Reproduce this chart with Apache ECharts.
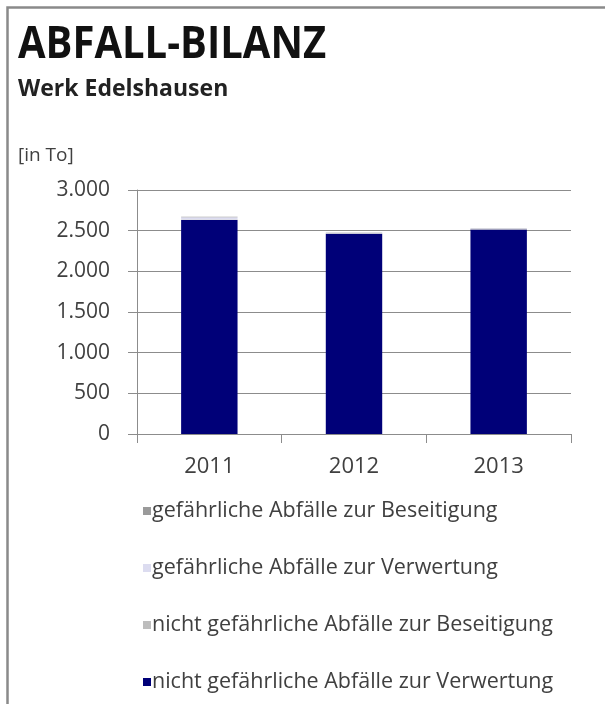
<!DOCTYPE html>
<html>
<head>
<meta charset="utf-8">
<script src="https://cdn.jsdelivr.net/npm/echarts@6/dist/echarts.min.js"></script>
<style>
html,body{margin:0;padding:0;background:#fff;}
#c{width:605px;height:704px;}
</style>
</head>
<body>
<div id="c"></div>
<script>
const categories = ['2011', '2012', '2013'];
const seriesNames = [
  'gefährliche Abfälle zur Beseitigung',
  'gefährliche Abfälle zur Verwertung',
  'nicht gefährliche Abfälle zur Beseitigung',
  'nicht gefährliche Abfälle zur Verwertung'
];
const gefBeseitigung = [4, 3, 3];
const gefVerwertung = [30, 6, 6];
const nichtGefBeseitigung = [6, 5, 5];
const nichtGefVerwertung = [2630, 2462, 2515];
const yTicks = [0, 500, 1000, 1500, 2000, 2500, 3000];

const colors = {
  'gefährliche Abfälle zur Beseitigung': '#9a9a9a',
  'gefährliche Abfälle zur Verwertung': '#dcdcf0',
  'nicht gefährliche Abfälle zur Beseitigung': '#bdbdbd',
  'nicht gefährliche Abfälle zur Verwertung': '#000078'
};
const dataByName = {
  'gefährliche Abfälle zur Beseitigung': gefBeseitigung,
  'gefährliche Abfälle zur Verwertung': gefVerwertung,
  'nicht gefährliche Abfälle zur Beseitigung': nichtGefBeseitigung,
  'nicht gefährliche Abfälle zur Verwertung': nichtGefVerwertung
};
// stack bottom-up: reverse of legend order
const stackOrder = seriesNames.slice().reverse();

const FONT = 'Open Sans';
const chart = echarts.init(document.getElementById('c'), null, {renderer: 'canvas'});
chart.setOption({
  animation: false,
  backgroundColor: '#fff',
  textStyle: {fontFamily: FONT},
  graphic: [
    {type: 'rect', shape: {x: 7.5, y: 7.5, width: 600, height: 720},
     style: {fill: 'none', stroke: '#8a8a8a', lineWidth: 2.5}, z: -1},
    {type: 'text', x: 18, y: 23, scaleY: 1.12,
     style: {text: 'ABFALL-BILANZ', font: 'bold 40px "Open Sans"', fill: '#111'}},
    {type: 'text', x: 18, y: 78,
     style: {text: 'Werk Edelshausen', font: 'bold 23px "Open Sans"', fill: '#222'}},
    {type: 'text', x: 18, y: 146,
     style: {text: '[in To]', font: '19px "Open Sans"', fill: '#404040'}}
  ],
  grid: {left: 137, right: 34, top: 190, bottom: 270, containLabel: false},
  legend: {
    orient: 'vertical', left: 138, top: 495,
    data: seriesNames,
    itemWidth: 8, itemHeight: 8, itemGap: 35,
    icon: 'rect',
    textStyle: {fontSize: 21.5, color: '#404040', fontFamily: FONT, padding: [0, 0, 0, -4]}
  },
  xAxis: {
    type: 'category', data: categories,
    axisLine: {lineStyle: {color: '#8c8c8c', width: 1}},
    axisTick: {show: true, length: 9, lineStyle: {color: '#8c8c8c'}},
    axisLabel: {fontSize: 22, color: '#404040', margin: 22, fontFamily: FONT}
  },
  yAxis: {
    type: 'value', min: 0, max: 3000, interval: 500,
    axisLine: {show: true, lineStyle: {color: '#8c8c8c'}},
    axisTick: {show: true, inside: false, length: 9, lineStyle: {color: '#8c8c8c'}},
    splitLine: {lineStyle: {color: '#8c8c8c'}},
    axisLabel: {fontSize: 21, color: '#404040', margin: 27, fontFamily: FONT,
      formatter: v => yTicks.includes(v) ? (v >= 1000 ? Math.floor(v/1000) + '.' + String(v%1000).padStart(3,'0') : String(v)) : ''}
  },
  series: stackOrder.map(n => ({
    name: n, type: 'bar', stack: 'total', data: dataByName[n],
    barWidth: '39%',
    itemStyle: {color: colors[n]}
  }))
});
</script>
</body>
</html>
